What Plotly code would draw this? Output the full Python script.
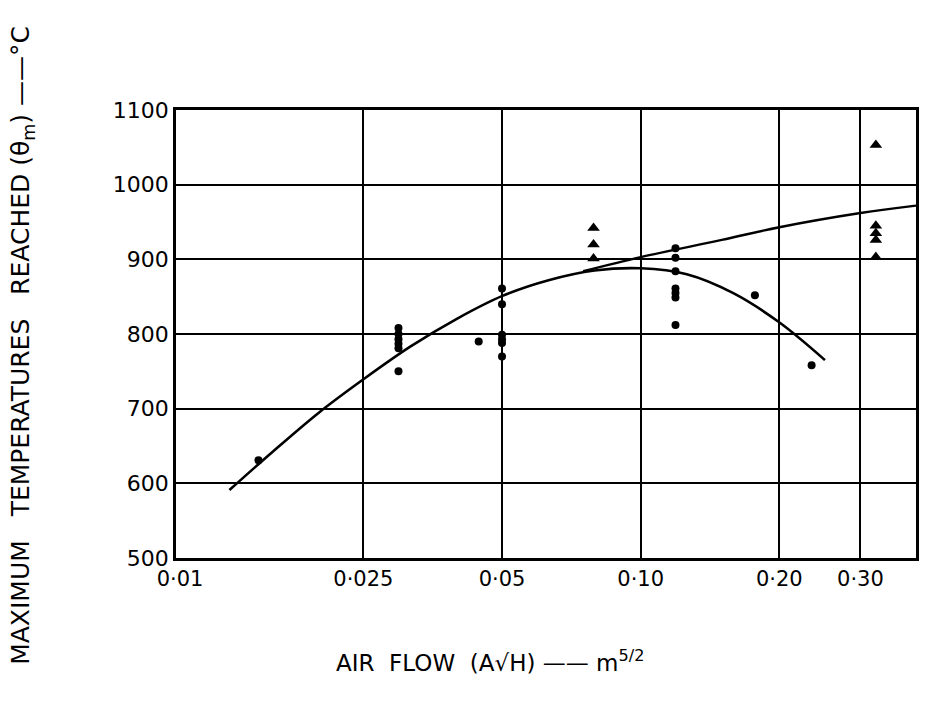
import numpy as np
import plotly.graph_objects as go

# ---- data ----
circle_x = [0.0148, 0.0298, 0.0298, 0.0298, 0.0298, 0.0298, 0.0298, 0.0445,
            0.05, 0.05, 0.05, 0.05, 0.05, 0.05,
            0.119, 0.119, 0.119, 0.119, 0.119, 0.119, 0.119, 0.177, 0.235]
circle_y = [631, 808, 800, 793, 787, 781, 750, 790,
            861, 840, 799, 793, 788, 770,
            915, 902, 884, 861, 855, 849, 812, 852, 758]

tri_x = [0.079, 0.079, 0.079, 0.324, 0.324, 0.324, 0.324, 0.324]
tri_y = [942, 920, 901, 1053, 945, 935, 926, 903]

curve_x = [0.0128, 0.0158, 0.01995, 0.0251, 0.0316, 0.0398, 0.0501,
           0.0631, 0.0794, 0.10, 0.1259, 0.1585, 0.1995, 0.2512]
curve_y = [591, 641, 694, 740, 783, 820, 851,
           872, 885, 888, 880, 855, 816, 765]

line_x = [0.075, 0.10, 0.15, 0.20, 0.30, 0.396]
line_y = [884, 903, 926, 943, 962, 972]

x_tick_vals = [0.01, 0.025, 0.05, 0.10, 0.20, 0.30]
x_tick_text = ["0·01", "0·025", "0·05", "0·10", "0·20", "0·30"]
x_grid_vals = [0.025, 0.05, 0.10, 0.20, 0.30]
y_tick_vals = [500, 600, 700, 800, 900, 1000, 1100]

FONT = "DejaVu Sans"
xr = [np.log10(0.0098), np.log10(0.396)]

fig = go.Figure()
fig.add_trace(go.Scatter(x=curve_x, y=curve_y, mode="lines",
                         line=dict(color="black", width=2.6, shape="spline"),
                         hoverinfo="skip", showlegend=False))
fig.add_trace(go.Scatter(x=line_x, y=line_y, mode="lines",
                         line=dict(color="black", width=2.4, shape="spline"),
                         hoverinfo="skip", showlegend=False))
fig.add_trace(go.Scatter(x=circle_x, y=circle_y, mode="markers",
                         marker=dict(symbol="circle", size=8, color="black"),
                         showlegend=False))
fig.add_trace(go.Scatter(x=tri_x, y=tri_y, mode="markers",
                         marker=dict(symbol="triangle-up", size=11, color="black"),
                         showlegend=False))
# invisible trace to carry the grid axis
fig.add_trace(go.Scatter(x=[0.05], y=[800], xaxis="x2", mode="markers",
                         marker=dict(opacity=0), hoverinfo="skip", showlegend=False))

fig.update_layout(
    width=919, height=698,
    margin=dict(l=168, r=8, t=102, b=148),
    paper_bgcolor="white", plot_bgcolor="white",
    font=dict(family=FONT, color="black"),
    xaxis=dict(type="log", range=xr, tickvals=x_tick_vals, ticktext=x_tick_text,
               showgrid=False, showline=True, linecolor="black", linewidth=2.5,
               mirror=True, ticks="", tickfont=dict(size=21, family=FONT),
               zeroline=False),
    xaxis2=dict(type="log", range=xr, overlaying="x", tickvals=x_grid_vals,
                showticklabels=False, showgrid=True, gridcolor="black",
                gridwidth=1.6, showline=False, ticks="", zeroline=False),
    yaxis=dict(range=[500, 1100], tickvals=y_tick_vals, showgrid=True,
               gridcolor="black", gridwidth=1.6, showline=True, linecolor="black",
               linewidth=2.5, mirror=True, ticks="", ticklabelstandoff=0,
               tickfont=dict(size=22, family=FONT), zeroline=False),
)

fig.add_annotation(
    text="MAXIMUM   TEMPERATURES   REACHED (θ<sub>m</sub>) ——°C",
    xref="paper", yref="paper", x=-0.2073, y=0.475, textangle=-90,
    showarrow=False, font=dict(size=25, family=FONT, color="black"),
    xanchor="center", yanchor="middle")
fig.add_annotation(
    text="AIR  FLOW  (A√H) —— m<sup>5/2</sup>",
    xref="paper", yref="paper", x=0.424, y=-0.23,
    showarrow=False, font=dict(size=23, family=FONT, color="black"),
    xanchor="center", yanchor="middle")

fig.write_html("out.html")
